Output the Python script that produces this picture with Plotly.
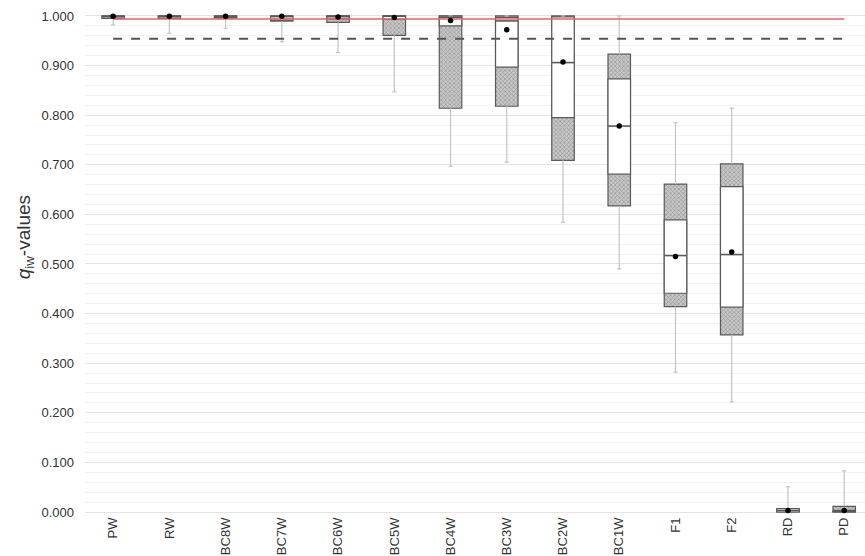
import plotly.graph_objects as go

# Categories along the x axis
categories = ["PW", "RW", "BC8W", "BC7W", "BC6W", "BC5W", "BC4W",
              "BC3W", "BC2W", "BC1W", "F1", "F2", "RD", "PD"]

# Box statistics per category
q1 =      [0.995, 0.995, 0.996, 0.990, 0.987, 0.961, 0.814, 0.818, 0.709, 0.617, 0.414, 0.357, 0.000, 0.000]
inner_lo = [0.995, 0.995, 0.996, 0.990, 0.994, 0.993, 0.980, 0.897, 0.795, 0.681, 0.441, 0.413, 0.000, 0.000]
median =  [0.9995, 0.9995, 0.9995, 0.9995, 0.9985, 0.9995, 0.997, 0.990, 0.906, 0.778, 0.517, 0.519, 0.003, 0.003]
inner_hi = [0.995, 0.995, 0.996, 0.990, 1.000, 1.000, 0.9995, 0.997, 0.998, 0.873, 0.589, 0.656, 0.007, 0.002]
q3 =      [1.000, 1.000, 1.000, 1.000, 1.000, 1.000, 1.000, 1.000, 1.000, 0.923, 0.661, 0.702, 0.007, 0.0115]
mean =    [0.9995, 0.9995, 0.9995, 0.9995, 0.998, 0.997, 0.991, 0.972, 0.907, 0.778, 0.515, 0.524, 0.003, 0.003]
whisk_lo = [0.982, 0.965, 0.975, 0.948, 0.926, 0.847, 0.697, 0.705, 0.584, 0.490, 0.282, 0.222, 0.000, 0.000]
whisk_hi = [1.000, 1.000, 1.000, 1.000, 1.000, 1.000, 1.000, 1.000, 1.000, 1.000, 0.785, 0.814, 0.051, 0.083]

# Reference levels
upper_ref = 0.994
lower_ref = 0.954

FONT = "Liberation Sans, Arial, sans-serif"
EDGE = "#5a5a5a"
WHISK = "#c4c4c4"
BOX_W = 0.4

fig = go.Figure()

# Whisker lines (below and above each box)
wx, wy = [], []
for c, lo, b, t, hi in zip(categories, whisk_lo, q1, q3, whisk_hi):
    wx += [c, c, None, c, c, None]
    wy += [lo, b, None, t, hi, None]
fig.add_trace(go.Scatter(x=wx, y=wy, mode="lines",
                         line=dict(color=WHISK, width=1.2),
                         hoverinfo="skip", showlegend=False))
# Whisker caps
fig.add_trace(go.Scatter(x=categories + categories, y=whisk_lo + whisk_hi, mode="markers",
                         marker=dict(symbol="line-ew", size=3,
                                     line=dict(color=WHISK, width=1.2)),
                         hoverinfo="skip", showlegend=False, cliponaxis=False))

# Hatched box from Q1 to Q3
fig.add_trace(go.Bar(
    x=categories, base=q1, y=[t - b for t, b in zip(q3, q1)], width=BOX_W,
    marker=dict(color="#c4c4c4",
                line=dict(color=EDGE, width=1.2),
                pattern=dict(shape="x", fgcolor="#5e5e5e", bgcolor="#c9c9c9",
                             size=3, solidity=0.4)),
    showlegend=False, hoverinfo="skip"))

# Clear inner section of each box
fig.add_trace(go.Bar(
    x=categories, base=inner_lo, y=[h - l for h, l in zip(inner_hi, inner_lo)], width=BOX_W,
    marker=dict(color="white", line=dict(color=EDGE, width=1.2)),
    showlegend=False, hoverinfo="skip"))

# Median line
fig.add_trace(go.Scatter(x=categories, y=median, mode="markers",
                         marker=dict(symbol="line-ew", size=16,
                                     line=dict(color=EDGE, width=1.6)),
                         showlegend=False, hoverinfo="skip", cliponaxis=False))

# Reference lines
fig.add_trace(go.Scatter(x=categories, y=[upper_ref] * len(categories), mode="lines",
                         line=dict(color="#e06666", width=1.4),
                         showlegend=False, hoverinfo="skip"))
fig.add_trace(go.Scatter(x=categories, y=[lower_ref] * len(categories), mode="lines",
                         line=dict(color="#555555", width=2, dash="dash"),
                         showlegend=False, hoverinfo="skip"))

# Mean markers
fig.add_trace(go.Scatter(x=categories, y=mean, mode="markers",
                         marker=dict(color="black", size=5.5),
                         showlegend=False, hoverinfo="skip", cliponaxis=False))

fig.update_layout(
    width=865, height=556,
    margin=dict(l=85, r=0, t=11, b=42),
    paper_bgcolor="white", plot_bgcolor="white",
    barmode="overlay",
    font=dict(family=FONT, size=13, color="#333333"),
    xaxis=dict(range=[-0.5, 13.37], tickangle=-90, showgrid=False,
               zeroline=False, showline=False, ticks="",
               tickfont=dict(size=13, color="#333333"), automargin=False),
    yaxis=dict(range=[-0.004, 1.01], tickvals=[i / 10 for i in range(11)],
               tickformat=".3f", showgrid=True, gridcolor="#e4e4e4", gridwidth=1,
               minor=dict(dtick=0.02, tick0=0, showgrid=True, gridcolor="#f2f2f2", gridwidth=1),
               zeroline=False, showline=False, ticks="", ticklabelstandoff=10,
               tickfont=dict(size=13, color="#333333"), automargin=False),
    annotations=[dict(text="<i>q</i><sub>iw</sub>-values", textangle=-90,
                      xref="paper", yref="paper", x=-0.077, y=0.55,
                      xanchor="center", yanchor="middle", showarrow=False,
                      font=dict(family=FONT, size=19, color="#333333"))],
)

fig.write_html("out.html")
